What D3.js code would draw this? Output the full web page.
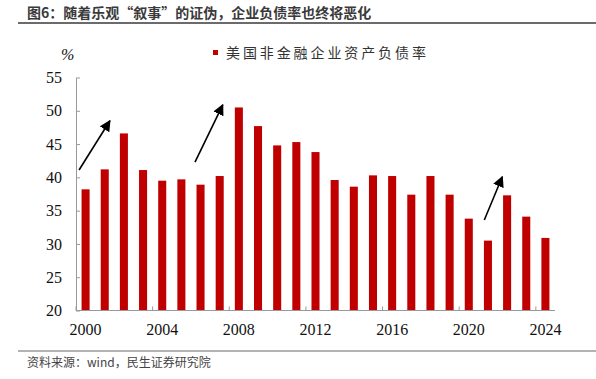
<!DOCTYPE html>
<html><head><meta charset="utf-8">
<script src="https://cdn.jsdelivr.net/npm/d3@7/dist/d3.min.js"></script>
<style>html,body{margin:0;padding:0;background:#fff;}svg{display:block;}</style>
</head><body>
<svg id="c" width="596" height="379"></svg>
<script>
const years = d3.range(2000, 2025);
const values = [38.2,41.2,46.6,41.1,39.5,39.7,38.9,40.2,50.5,47.7,44.8,45.3,43.8,39.6,38.6,40.3,40.2,37.4,40.2,37.4,33.8,30.5,37.3,34.1,30.9];
const yTicks = [20,25,30,35,40,45,50,55];
const xLabelYears = [2000,2004,2008,2012,2016,2020,2024];
const seriesName = "美国非金融企业资产负债率";
const titleText = "图6：随着乐观“叙事”的证伪，企业负债率也终将恶化";
const sourceText = "资料来源：wind，民生证券研究院";
// arrows in data coordinates: [yearFrom, valueFrom, yearTo, valueTo]
const arrows = [
  [1999.66, 41.1, 2001.27, 48.5],
  [2005.71, 42.3, 2007.16, 50.9],
  [2020.81, 33.6, 2021.75, 40.1]
];

const svg = d3.select("#c");
const L = 76, R = 555, T = 77.5, B = 310.5;
const x = d3.scaleBand().domain(years).range([L, R]).paddingInner(0.58).paddingOuter(0.29);
const y = d3.scaleLinear().domain([20, 55]).range([B, T]);
const step = x.step();
const xc = yr => x(yr) + x.bandwidth() / 2;
const xf = v => { const i = v - 2000; return L + step * (i + 0.5); };

// title
svg.append("text").attr("x", 27).attr("y", 18)
  .attr("font-family", "'Noto Sans CJK SC', sans-serif").attr("font-weight", "bold")
  .attr("font-size", 14).attr("fill", "#3a3a3a").text(titleText);
svg.append("line").attr("x1", 18).attr("x2", 596).attr("y1", 23).attr("y2", 23)
  .attr("stroke", "#6b6b6b").attr("stroke-width", 2);

// bars
svg.append("g").selectAll("rect").data(values).join("rect")
  .attr("x", (d, i) => x(years[i])).attr("width", x.bandwidth())
  .attr("y", d => y(d)).attr("height", d => B - y(d))
  .attr("fill", "#C00000");

// y axis
const ya = svg.append("g").attr("transform", `translate(${L},0)`)
  .call(d3.axisLeft(y).tickValues(yTicks).tickSizeInner(-4).tickSizeOuter(0).tickPadding(14));
ya.select(".domain").attr("stroke", "#999");
ya.selectAll(".tick line").attr("stroke", "#999");
ya.selectAll(".tick text").attr("font-family", "'Liberation Serif', 'Times New Roman', serif")
  .attr("font-size", 16).attr("fill", "#111");

// x axis
svg.append("line").attr("x1", L).attr("x2", R).attr("y1", B).attr("y2", B).attr("stroke", "#999");
svg.append("g").selectAll("line").data(xLabelYears).join("line")
  .attr("x1", d => xc(d) - step / 2).attr("x2", d => xc(d) - step / 2)
  .attr("y1", B).attr("y2", B - 4).attr("stroke", "#999");
svg.append("g").selectAll("text").data(xLabelYears).join("text")
  .attr("x", d => xc(d)).attr("y", 335).attr("text-anchor", "middle")
  .attr("font-family", "'Liberation Serif', 'Times New Roman', serif")
  .attr("font-size", 16).attr("fill", "#111").text(d => d);

// unit
svg.append("text").attr("x", 61).attr("y", 60).attr("font-family", "'Liberation Serif', serif")
  .attr("font-size", 16).attr("font-style", "italic").attr("fill", "#111").text("%");

// legend
svg.append("rect").attr("x", 213).attr("y", 50).attr("width", 5).attr("height", 5).attr("fill", "#C00000");
svg.append("text").attr("x", 226).attr("y", 58).attr("font-family", "'Noto Sans CJK SC', sans-serif")
  .attr("font-size", 14).attr("letter-spacing", 2.9).attr("fill", "#333").text(seriesName);

// arrows
const defs = svg.append("defs");
defs.append("marker").attr("id", "ah").attr("viewBox", "0 0 10 10").attr("refX", 9).attr("refY", 5)
  .attr("markerWidth", 7).attr("markerHeight", 7).attr("orient", "auto")
  .append("path").attr("d", "M0,0L10,5L0,10z").attr("fill", "#000");
svg.append("g").selectAll("line").data(arrows).join("line")
  .attr("x1", d => xf(d[0])).attr("y1", d => y(d[1]))
  .attr("x2", d => xf(d[2])).attr("y2", d => y(d[3]))
  .attr("stroke", "#000").attr("stroke-width", 1.6).attr("marker-end", "url(#ah)");

// source
svg.append("line").attr("x1", 18).attr("x2", 596).attr("y1", 351).attr("y2", 351)
  .attr("stroke", "#666").attr("stroke-width", 1);
svg.append("text").attr("x", 27).attr("y", 367).attr("font-family", "'Noto Sans CJK SC', sans-serif")
  .attr("font-size", 12).attr("fill", "#444").text(sourceText);
</script>
</body></html>
